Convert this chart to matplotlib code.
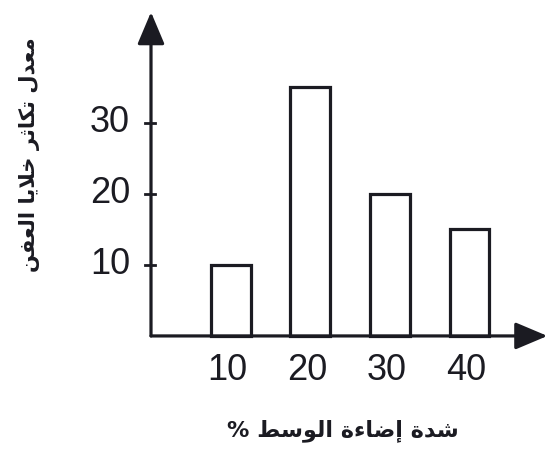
import matplotlib
matplotlib.use("Agg")
import matplotlib.pyplot as plt

# ---- data ----
categories = [10, 20, 30, 40]
values = [10, 35, 20, 15]
yticks = [10, 20, 30]
xlabel_text = "شدة إضاءة الوسط %"
ylabel_text = "معدل تكاثر خلايا العفن"

# ---- minimal Arabic shaping (presentation forms) ----
FORMS = {
    '\u0621': ('\uFE80', None, None, None),
    '\u0625': ('\uFE87', '\uFE88', None, None),
    '\u0627': ('\uFE8D', '\uFE8E', None, None),
    '\u0629': ('\uFE93', '\uFE94', None, None),
    '\u062A': ('\uFE95', '\uFE96', '\uFE97', '\uFE98'),
    '\u062B': ('\uFE99', '\uFE9A', '\uFE9B', '\uFE9C'),
    '\u062E': ('\uFEA5', '\uFEA6', '\uFEA7', '\uFEA8'),
    '\u062F': ('\uFEA9', '\uFEAA', None, None),
    '\u0631': ('\uFEAD', '\uFEAE', None, None),
    '\u0633': ('\uFEB1', '\uFEB2', '\uFEB3', '\uFEB4'),
    '\u0634': ('\uFEB5', '\uFEB6', '\uFEB7', '\uFEB8'),
    '\u0636': ('\uFEBD', '\uFEBE', '\uFEBF', '\uFEC0'),
    '\u0637': ('\uFEC1', '\uFEC2', '\uFEC3', '\uFEC4'),
    '\u0639': ('\uFEC9', '\uFECA', '\uFECB', '\uFECC'),
    '\u0641': ('\uFED1', '\uFED2', '\uFED3', '\uFED4'),
    '\u0643': ('\uFED9', '\uFEDA', '\uFEDB', '\uFEDC'),
    '\u0644': ('\uFEDD', '\uFEDE', '\uFEDF', '\uFEE0'),
    '\u0645': ('\uFEE1', '\uFEE2', '\uFEE3', '\uFEE4'),
    '\u0646': ('\uFEE5', '\uFEE6', '\uFEE7', '\uFEE8'),
    '\u0648': ('\uFEED', '\uFEEE', None, None),
    '\u064A': ('\uFEF1', '\uFEF2', '\uFEF3', '\uFEF4'),
}


def dual(c):
    return c in FORMS and FORMS[c][2] is not None


def shape(text):
    out = []
    chars = list(text)
    i = 0
    n = len(chars)
    while i < n:
        c = chars[i]
        if c not in FORMS:
            out.append(c)
            i += 1
            continue
        prev = chars[i - 1] if i > 0 else None
        jp = prev is not None and dual(prev)
        if c == '\u0644' and i + 1 < n and chars[i + 1] == '\u0627':
            out.append('\uFEFC' if jp else '\uFEFB')
            i += 2
            continue
        nxt = chars[i + 1] if i + 1 < n else None
        jn = dual(c) and nxt is not None and nxt in FORMS
        iso, fin, ini, med = FORMS[c]
        if jp and jn:
            g = med
        elif jp:
            g = fin or iso
        elif jn:
            g = ini
        else:
            g = iso
        out.append(g)
        i += 1
    return ''.join(reversed(out))


dark = '#1b1b22'
fig = plt.figure(figsize=(5.49, 4.5), dpi=100)
ax = fig.add_axes([0, 0, 1, 1])
ax.set_xlim(-18.97, 50.0)
ax.set_ylim(-16.06, 47.3)
ax.axis('off')

ax.bar(categories, values, width=5, facecolor='white', edgecolor=dark,
       linewidth=2.3, zorder=2)

arrow = dict(arrowstyle='-|>,head_length=0.9,head_width=0.38', lw=2.3,
             color=dark, mutation_scale=22, shrinkA=0, shrinkB=0)
ax.annotate('', xy=(49.8, 0), xytext=(0, 0), arrowprops=arrow, zorder=3)
ax.annotate('', xy=(0, 45.6), xytext=(0, 0), arrowprops=arrow, zorder=3)

for v in yticks:
    ax.plot([-0.75, 0.5], [v, v], color=dark, lw=2.0, zorder=3)
    ax.text(-2.64, v, str(v), ha='right', va='center', fontsize=26,
            family='Liberation Sans', color=dark)

for c in categories:
    ax.text(c - 0.4, -4.8, str(c), ha='center', va='center', fontsize=26,
            family='Liberation Sans', color=dark)

fig.text(0.625, 0.042, shape(xlabel_text), ha='center', va='center',
         fontsize=16, fontweight='bold', family=['DejaVu Sans'], color=dark)
fig.text(0.054, 0.656, shape(ylabel_text), ha='center', va='center',
         rotation=90, fontsize=15.2, fontweight='bold', family=['DejaVu Sans'],
         color=dark)

fig.savefig('out.png', dpi=100)
